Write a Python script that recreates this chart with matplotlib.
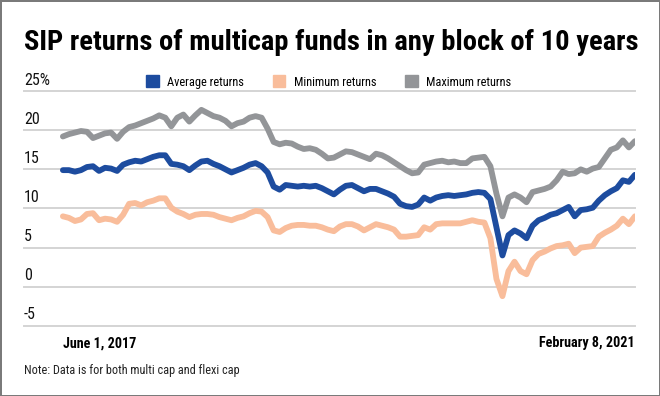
import matplotlib
matplotlib.use('Agg')
import matplotlib.pyplot as plt
from matplotlib.patches import Patch
import numpy as np

plt.rcParams['font.family'] = ['Roboto Condensed', 'DejaVu Sans Condensed', 'Open Sans Condensed',
                               'Liberation Sans Narrow', 'Roboto', 'DejaVu Sans']

# returns in %, roughly weekly samples from June 1, 2017 to February 8, 2021
max_returns = [19.2, 19.5, 19.7, 19.9, 19.8, 19.0, 19.3, 19.6, 19.7, 18.9,
               19.8, 20.4, 20.6, 20.9, 21.2, 21.5, 21.9, 21.6, 20.5, 21.6,
               22.0, 21.1, 21.9, 22.6, 22.2, 21.8, 21.6, 21.2, 20.5, 20.9,
               21.1, 21.6, 21.8, 21.6, 20.2, 18.5, 18.2, 18.4, 18.3, 17.9,
               17.6, 17.7, 17.5, 17.0, 16.4, 16.5, 16.9, 17.3, 17.2, 16.9,
               16.6, 16.3, 17.0, 16.8, 16.4, 15.9, 15.4, 14.9, 14.5, 14.6,
               15.6, 15.8, 16.0, 16.1, 15.9, 16.0, 15.8, 15.8, 16.4, 16.5,
               16.6, 15.4, 11.9, 9.0, 11.4, 11.8, 11.4, 10.8, 12.1, 12.3,
               12.5, 12.8, 13.6, 14.7, 14.4, 14.5, 15.0, 14.7, 15.1, 15.3,
               16.4, 17.5, 17.8, 18.7, 17.8, 18.6]

avg_returns = [14.9, 14.9, 14.7, 14.9, 15.3, 15.4, 14.8, 15.2, 15.1, 14.8,
               15.6, 15.9, 16.1, 16.0, 16.3, 16.6, 16.8, 16.8, 15.7, 15.6,
               15.4, 14.9, 15.5, 16.0, 16.1, 15.7, 15.4, 15.0, 14.6, 14.9,
               15.2, 15.6, 15.8, 15.4, 14.6, 12.8, 12.4, 13.0, 12.9, 12.8,
               12.9, 12.8, 12.9, 12.6, 12.2, 11.8, 12.4, 12.9, 13.0, 12.6,
               12.2, 12.5, 12.5, 12.2, 11.9, 11.5, 10.6, 10.3, 10.2, 10.5,
               11.4, 11.0, 11.4, 11.6, 11.7, 11.6, 11.7, 11.8, 12.0, 12.1,
               12.0, 11.2, 7.6, 4.0, 6.6, 7.2, 6.8, 6.2, 7.8, 8.5,
               8.8, 9.2, 9.4, 9.8, 10.2, 9.0, 9.8, 9.9, 10.1, 11.0,
               11.7, 12.2, 12.6, 13.6, 13.4, 14.3]

min_returns = [9.0, 8.8, 8.4, 8.6, 9.3, 9.4, 8.5, 8.7, 8.6, 8.3,
               9.2, 10.6, 10.7, 10.4, 10.8, 11.0, 11.3, 11.3, 10.1, 9.6,
               9.3, 8.9, 9.2, 9.3, 9.3, 9.2, 8.9, 8.7, 8.5, 8.8,
               9.0, 9.4, 9.7, 9.6, 8.9, 7.2, 7.0, 7.5, 7.8, 7.9,
               7.9, 7.8, 7.8, 7.6, 7.3, 7.1, 7.7, 8.0, 8.0, 7.7,
               7.2, 7.6, 8.0, 7.8, 7.6, 7.3, 6.4, 6.4, 6.5, 6.6,
               7.6, 7.3, 8.0, 8.1, 8.1, 8.1, 8.1, 8.3, 8.5, 8.3,
               8.2, 6.2, 1.0, -1.2, 2.0, 3.2, 2.0, 1.6, 3.4, 4.2,
               4.5, 4.9, 5.2, 5.3, 5.5, 4.3, 5.0, 5.1, 5.2, 6.4,
               6.9, 7.3, 7.8, 8.7, 8.0, 9.0]

series_names = ['Average returns', 'Minimum returns', 'Maximum returns']
colors = ['#1d4c9f', '#f9bd9b', '#939598']
yticks = [-5, 0, 5, 10, 15, 20, 25]
ytick_labels = ['-5', '0', '5', '10', '15', '20', '25%']
start_label = 'June 1, 2017'
end_label = 'February 8, 2021'

fig = plt.figure(figsize=(6.6, 3.96), dpi=100, edgecolor='#7a7a7a', linewidth=2)
ax = fig.add_axes([0.036, 0.177, 0.926, 0.593])
renderer = fig.canvas.get_renderer()


def fit(t, width_px):
    # scale font so the text spans the same width as in the reference
    w = t.get_window_extent(renderer).width
    t.set_fontsize(t.get_fontsize() * width_px / w)


x = np.arange(len(avg_returns))
ax.plot(x, max_returns, color=colors[2], lw=4.2, solid_capstyle='round', zorder=3)
ax.plot(x, avg_returns, color=colors[0], lw=4.2, solid_capstyle='round', zorder=4)
ax.plot(x, min_returns, color=colors[1], lw=4.2, solid_capstyle='round', zorder=3)

ax.set_xlim(-6.5, len(x) - 1)
ax.set_ylim(-5, 25)
for v, lab in zip(yticks, ytick_labels):
    ax.axhline(v, color='#d4d4d4', lw=1.4, zorder=1, clip_on=False)
    t = ax.text(0.0, v + 0.45, lab, transform=ax.get_yaxis_transform(),
                ha='left', va='bottom', fontsize=11.5, color='#111111')
    if lab == '25%':
        fit(t, 26)
        ysize = t.get_fontsize()
for t in ax.texts:
    t.set_fontsize(ysize)

ax.set_xticks([])
ax.set_yticks([])
for s in ax.spines.values():
    s.set_visible(False)

t1 = ax.text(0, -6.3, start_label, ha='left', va='top', fontsize=11, fontweight='bold')
t2 = ax.text(len(x) - 1, -6.3, end_label, ha='right', va='top', fontsize=11, fontweight='bold')
fit(t2, 95)
t1.set_fontsize(t2.get_fontsize())

handles = [Patch(color=c) for c in colors]
leg = fig.legend(handles, series_names, loc='center', bbox_to_anchor=(0.498, 0.793), ncol=3,
                 frameon=False, fontsize=10, handlelength=0.9, handleheight=0.9,
                 handletextpad=0.6, columnspacing=2.1)
lt = leg.get_texts()
fit(lt[0], 77)
for t in lt[1:]:
    t.set_fontsize(lt[0].get_fontsize())

title = fig.text(0.036, 0.893, 'SIP returns of multicap funds in any block of 10 years',
                 ha='left', va='center', fontsize=20, fontweight='bold')
fit(title, 611)
note = fig.text(0.036, 0.065, 'Note: Data is for both multi cap and flexi cap',
                ha='left', va='center', fontsize=9.5, color='#222222')
fit(note, 216)

fig.savefig('out.png', dpi=100)
